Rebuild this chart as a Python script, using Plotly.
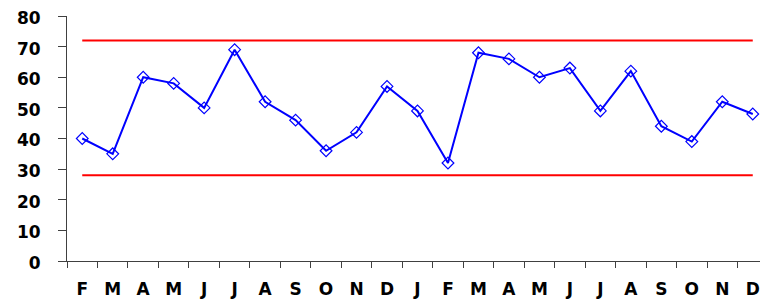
import plotly.graph_objects as go

months = ["F", "M", "A", "M", "J", "J", "A", "S", "O", "N", "D", "J",
          "F", "M", "A", "M", "J", "J", "A", "S", "O", "N", "D"]
values = [40, 35, 60, 58, 50, 69, 52, 46, 36, 42, 57, 49,
          32, 68, 66, 60, 63, 49, 62, 44, 39, 52, 48]
upper_limit = 72
lower_limit = 28
y_ticks = [0, 10, 20, 30, 40, 50, 60, 70, 80]

ids = [f"{m}{i}" for i, m in enumerate(months)]

fig = go.Figure()
fig.add_trace(go.Scatter(x=ids, y=values, mode="lines+markers",
                         line=dict(color="#0000FF", width=2),
                         marker=dict(symbol="diamond-open", size=9, color="#0000FF",
                                     line=dict(width=1.2, color="#0000FF"))))
fig.add_trace(go.Scatter(x=[ids[0], ids[-1]], y=[upper_limit, upper_limit], mode="lines",
                         line=dict(color="#FF0000", width=2), hoverinfo="skip"))
fig.add_trace(go.Scatter(x=[ids[0], ids[-1]], y=[lower_limit, lower_limit], mode="lines",
                         line=dict(color="#FF0000", width=2), hoverinfo="skip"))

font_family = "Verdana, DejaVu Sans, sans-serif"
fig.update_layout(
    width=760, height=291,
    margin=dict(l=59, r=0, t=8, b=38, autoexpand=False),
    paper_bgcolor="white", plot_bgcolor="white",
    showlegend=False,
    font=dict(family=font_family, size=17, color="black"),
)
fig.update_xaxes(
    type="category", categoryorder="array", categoryarray=ids,
    range=[-0.5, len(ids) - 0.5],
    tickmode="array", tickvals=ids, ticktext=months, automargin=False,
    tickson="boundaries", ticks="outside", ticklen=6, tickcolor="#404040",
    showline=True, linecolor="#404040", linewidth=1, showgrid=False,
    ticklabelstandoff=13, ticklabeloverflow="allow",
    tickfont=dict(family=font_family, size=17, color="black", weight="bold"),
)
fig.update_yaxes(
    range=[0, 80], tickmode="array", tickvals=y_ticks, ticktext=[str(v) for v in y_ticks],
    automargin=False,
    ticks="outside", ticklen=8, tickcolor="#404040",
    showline=True, linecolor="#404040", linewidth=1, showgrid=False, zeroline=False,
    ticklabelstandoff=14, ticklabelshift=2, ticklabeloverflow="allow",
    tickfont=dict(family=font_family, size=17, color="black", weight="bold"),
)

fig.write_html("out.html")
